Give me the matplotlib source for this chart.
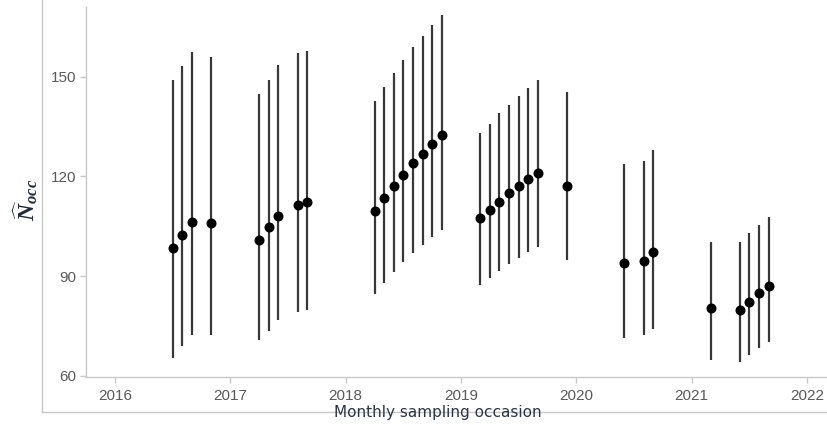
import matplotlib
matplotlib.use("Agg")
import matplotlib.pyplot as plt
from matplotlib.lines import Line2D
import numpy as np

# Sampling occasions (year-month)
occasions = ["2016-07", "2016-08", "2016-09", "2016-11",
             "2017-04", "2017-05", "2017-06", "2017-08", "2017-09",
             "2018-04", "2018-05", "2018-06", "2018-07", "2018-08", "2018-09", "2018-10", "2018-11",
             "2019-03", "2019-04", "2019-05", "2019-06", "2019-07", "2019-08", "2019-09", "2019-12",
             "2020-06", "2020-08", "2020-09",
             "2021-03", "2021-06", "2021-07", "2021-08", "2021-09"]
estimate = [98.4, 102.5, 106.3, 106.0,
            101.0, 104.7, 108.1, 111.5, 112.2,
            109.7, 113.5, 117.2, 120.6, 124.0, 126.7, 129.7, 132.4,
            107.5, 110.0, 112.4, 115.0, 117.2, 119.2, 121.2, 117.2,
            93.8, 94.4, 97.1,
            80.5, 79.8, 82.3, 84.9, 87.1]
lower = [65.2, 69.0, 72.1, 72.1,
         70.8, 73.5, 76.6, 79.1, 79.8,
         84.5, 87.8, 91.3, 94.1, 96.8, 99.4, 101.9, 104.0,
         87.2, 89.4, 91.6, 93.7, 95.3, 97.1, 98.7, 94.7,
         71.4, 72.1, 73.9,
         64.8, 64.2, 66.3, 68.2, 70.2]
upper = [149.1, 153.2, 157.6, 156.0,
         144.8, 149.2, 153.5, 157.3, 157.9,
         142.8, 147.1, 151.1, 155.1, 158.9, 162.3, 165.7, 168.7,
         133.0, 135.9, 139.0, 141.5, 144.3, 146.8, 149.2, 145.5,
         123.8, 124.7, 127.9,
         100.2, 100.2, 103.0, 105.4, 107.8]
year_ticks = [2016, 2017, 2018, 2019, 2020, 2021, 2022]
y_ticks = [60, 90, 120, 150]

x = np.array([int(s[:4]) + (int(s[5:]) - 1) / 12 for s in occasions])

plt.rcParams["mathtext.fontset"] = "custom"
plt.rcParams["mathtext.it"] = "Liberation Serif:italic:bold"
plt.rcParams["mathtext.rm"] = "Liberation Serif:bold"
plt.rcParams["mathtext.bf"] = "Liberation Serif:italic:bold"

W, H = 827, 425
fig = plt.figure(figsize=(W / 100, H / 100), dpi=100)
ax = fig.add_axes([86 / W, 1 - 377 / H, (826 - 86) / W, (377 - 7) / H])

ax.vlines(x, lower, upper, color="#383838", lw=1.6, zorder=2)
ax.plot(x, estimate, "o", color="black", ms=6.2, zorder=3)

ax.set_xlim(2015.748, 2022.165)
ax.set_ylim(59.55, 171.1)
ax.set_xticks(year_ticks)
ax.set_xticklabels([str(t) for t in year_ticks])
ax.set_yticks(y_ticks)

for s in ["top", "right"]:
    ax.spines[s].set_visible(False)
for s in ["left", "bottom"]:
    ax.spines[s].set_color("#c8c8c8")
    ax.spines[s].set_linewidth(1.0)
ax.tick_params(axis="both", colors="#c8c8c8", length=4, width=1,
               labelcolor="#5a5a5a", labelsize=11)
for lab in ax.get_xticklabels() + ax.get_yticklabels():
    lab.set_family("Liberation Sans")
ax.tick_params(axis="x", pad=5)
ax.tick_params(axis="y", pad=3)

# outer frame lines
fig.add_artist(Line2D([42 / W, 42 / W], [1 - 412 / H, 1.0], transform=fig.transFigure,
                      color="#c8c8c8", lw=1))
fig.add_artist(Line2D([42 / W, 1.0], [1 - 412 / H, 1 - 412 / H], transform=fig.transFigure,
                      color="#c8c8c8", lw=1))

fig.text(438 / W, 1 - 413 / H, "Monthly sampling occasion", ha="center", va="center",
         fontsize=11, color="#2b3645", family="DejaVu Sans")

fig.text(26 / W, 1 - 200 / H, r"$\widehat{N}_{occ}$", rotation=90, ha="center", va="center",
         fontsize=17, color="#1f2a3a")

fig.savefig("out.png", dpi=100)
